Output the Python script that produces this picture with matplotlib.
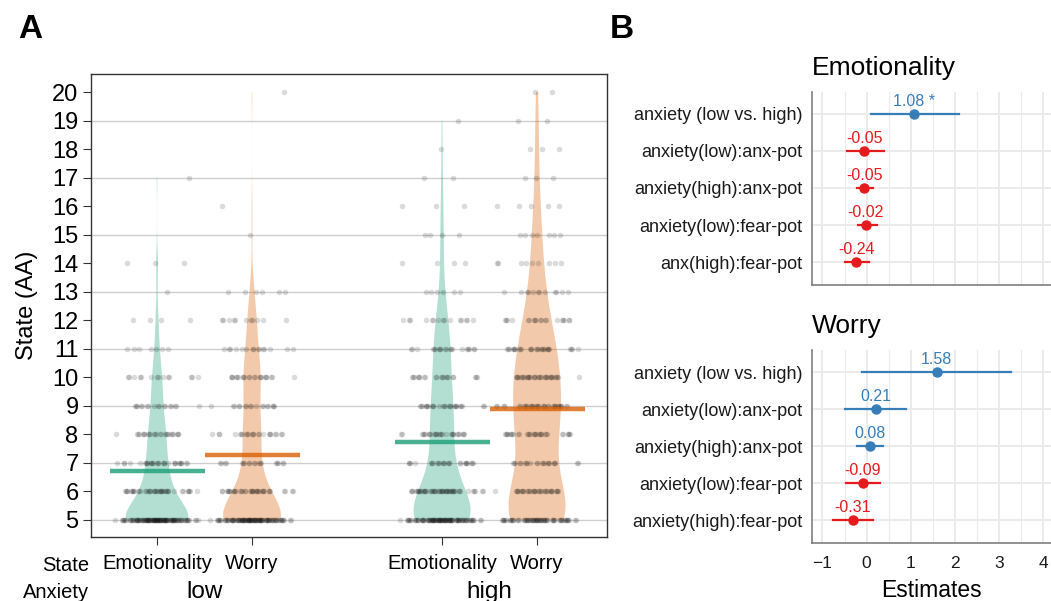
import numpy as np
import matplotlib.pyplot as plt

plt.rcParams['font.family'] = ['Liberation Sans', 'DejaVu Sans']

# ---- panel A: number of ratings at each State (AA) level 5..20
levels = np.arange(5, 21)
low_emotionality = [108, 42, 29, 25, 17, 14, 7, 4, 1, 3, 0, 0, 1, 0, 0, 0]
low_worry = [98, 37, 19, 23, 17, 22, 15, 11, 6, 0, 1, 1, 0, 0, 0, 1]
high_emotionality = [94, 51, 25, 28, 26, 21, 20, 15, 6, 4, 4, 3, 2, 1, 1, 0]
high_worry = [66, 33, 22, 31, 34, 33, 28, 19, 12, 9, 7, 5, 3, 3, 2, 2]

groups = [low_emotionality, low_worry, high_emotionality, high_worry]
group_state = ['Emotionality', 'Worry', 'Emotionality', 'Worry']
positions = [1, 2, 4, 5]
anxiety_levels = ['low', 'high']

# ---- panel B: model estimates with intervals
terms_emo = ['anxiety (low vs. high)', 'anxiety(low):anx-pot', 'anxiety(high):anx-pot',
             'anxiety(low):fear-pot', 'anx(high):fear-pot']
est_emo = [1.08, -0.05, -0.05, -0.02, -0.24]
lo_emo = [0.09, -0.45, -0.23, -0.20, -0.49]
hi_emo = [2.08, 0.39, 0.15, 0.23, 0.05]
sig_emo = ['*', '', '', '', '']

terms_wor = ['anxiety (low vs. high)', 'anxiety(low):anx-pot', 'anxiety(high):anx-pot',
             'anxiety(low):fear-pot', 'anxiety(high):fear-pot']
est_wor = [1.58, 0.21, 0.08, -0.09, -0.31]
lo_wor = [-0.11, -0.48, -0.23, -0.46, -0.77]
hi_wor = [3.27, 0.89, 0.38, 0.29, 0.14]
sig_wor = ['', '', '', '', '']

state_colors = {'Emotionality': '#1B9E77', 'Worry': '#D95F02'}
pos_color, neg_color = '#377EB8', '#E41A1C'
violin_bw = [0.57, 0.69, 0.78, 1.0]      # kernel bandwidth, in rating units
violin_width = [0.66, 0.61, 0.60, 0.60]


def spread(n, half=0.48):
    # deterministic horizontal jitter (low-discrepancy, centre weighted)
    k = np.arange(n)
    u1 = (k * 0.6180339887 + 0.31) % 1
    u2 = (k * 0.7548776662 + 0.17) % 1
    return (u1 + u2 - 1) * half


fig = plt.figure(figsize=(10.51, 6.01), dpi=100)

# ================= panel A
ax = fig.add_axes([0.0866, 0.1065, 0.491, 0.770])
for v in range(5, 21, 2):
    ax.axhline(v, color='#CFCFCF', lw=1.0, zorder=0)

samples = [np.repeat(levels, c) for c in groups]
for s, p, st, bw, w in zip(samples, positions, group_state, violin_bw, violin_width):
    vp = ax.violinplot([s], positions=[p], widths=w, showextrema=False,
                       bw_method=bw / np.std(s, ddof=1))
    body = vp['bodies'][0]
    body.set_facecolor(state_colors[st])
    body.set_edgecolor('none')
    body.set_alpha(0.33)
    body.set_zorder(1)

for s, p, st in zip(samples, positions, group_state):
    ax.scatter(p + spread(len(s)), s, s=16, color='black', alpha=0.14,
               linewidths=0, zorder=2)
    ax.hlines(s.mean(), p - 0.5, p + 0.5, color=state_colors[st], alpha=0.8,
              lw=3.2, zorder=3)

ax.set_xlim(0.305, 5.737)
ax.set_ylim(4.40, 20.63)
ax.set_yticks(levels)
ax.set_yticklabels([str(v) for v in levels], fontsize=17)
ax.set_xticks(positions)
ax.set_xticklabels(group_state, fontsize=14.5)
ax.tick_params(axis='x', length=6, pad=6, color='#333333')
ax.tick_params(axis='y', length=6, pad=3, color='#333333')
for sp in ax.spines.values():
    sp.set_color('#333333')
    sp.set_linewidth(1.0)
ax.set_ylabel('State (AA)', fontsize=17, labelpad=10)

fig.text(89 / 1051, 1 - 571 / 601, 'State', ha='right', va='baseline', fontsize=14.5)
fig.text(89 / 1051, 1 - 598 / 601, 'Anxiety', ha='right', va='baseline', fontsize=14.5)
for i, lab in enumerate(anxiety_levels):
    xc = (positions[2 * i] + positions[2 * i + 1]) / 2
    x_disp = ax.transData.transform((xc, 0))[0]
    x_fig = fig.transFigure.inverted().transform((x_disp, 0))[0]
    fig.text(x_fig, 1 - 598 / 601, lab, ha='center', va='baseline', fontsize=17.5)

fig.text(30 / 1051, 1 - 30 / 601, 'A', fontsize=24, fontweight='bold', ha='center', va='center')
fig.text(622 / 1051, 1 - 30 / 601, 'B', fontsize=24, fontweight='bold', ha='center', va='center')


# ================= panel B
def forest(axb, title, terms, est, lo, hi, sig, show_x):
    y = np.arange(len(terms))[::-1] + 1
    for yi, e, l, h, sg in zip(y, est, lo, hi, sig):
        c = pos_color if e > 0 else neg_color
        axb.plot([l, h], [yi, yi], color=c, lw=1.6, zorder=3)
        axb.plot(e, yi, 'o', color=c, ms=6.5, zorder=4)
        lab = f'{e:.2f}' + (f' {sg}' if sg else '')
        axb.annotate(lab, (e, yi), xytext=(0, 6), textcoords='offset points',
                     ha='center', va='baseline', color=c, fontsize=11.5)
    axb.set_yticks(y)
    axb.set_yticklabels(terms, fontsize=13, color='#1A1A1A')
    axb.set_ylim(0.38, 5.6)
    axb.set_xlim(-1.23, 4.17)
    axb.set_xticks(range(-1, 5))
    axb.set_xticks(np.arange(-0.5, 4.0, 1.0), minor=True)
    axb.grid(which='major', color='#EBEBEB', lw=1.4, zorder=0)
    axb.grid(which='minor', axis='x', color='#EBEBEB', lw=0.8, zorder=0)
    axb.set_axisbelow(True)
    axb.tick_params(which='both', length=0)
    axb.tick_params(axis='y', pad=7)
    axb.tick_params(axis='x', pad=9, labelsize=12.5, labelcolor='#1A1A1A')
    for side in ['top', 'right']:
        axb.spines[side].set_visible(False)
    for side in ['left', 'bottom']:
        axb.spines[side].set_color('#7F7F7F')
        axb.spines[side].set_linewidth(1.2)
    axb.set_title(title, loc='left', fontsize=19, pad=12)
    if show_x:
        axb.set_xlabel('Estimates', fontsize=16.5, labelpad=6)
    else:
        axb.tick_params(axis='x', labelbottom=False)


ax_e = fig.add_axes([0.7729, 0.5258, 0.2271, 0.3216])
forest(ax_e, 'Emotionality', terms_emo, est_emo, lo_emo, hi_emo, sig_emo, False)
ax_w = fig.add_axes([0.7729, 0.0960, 0.2271, 0.3216])
forest(ax_w, 'Worry', terms_wor, est_wor, lo_wor, hi_wor, sig_wor, True)

fig.savefig('out.png', dpi=100)
